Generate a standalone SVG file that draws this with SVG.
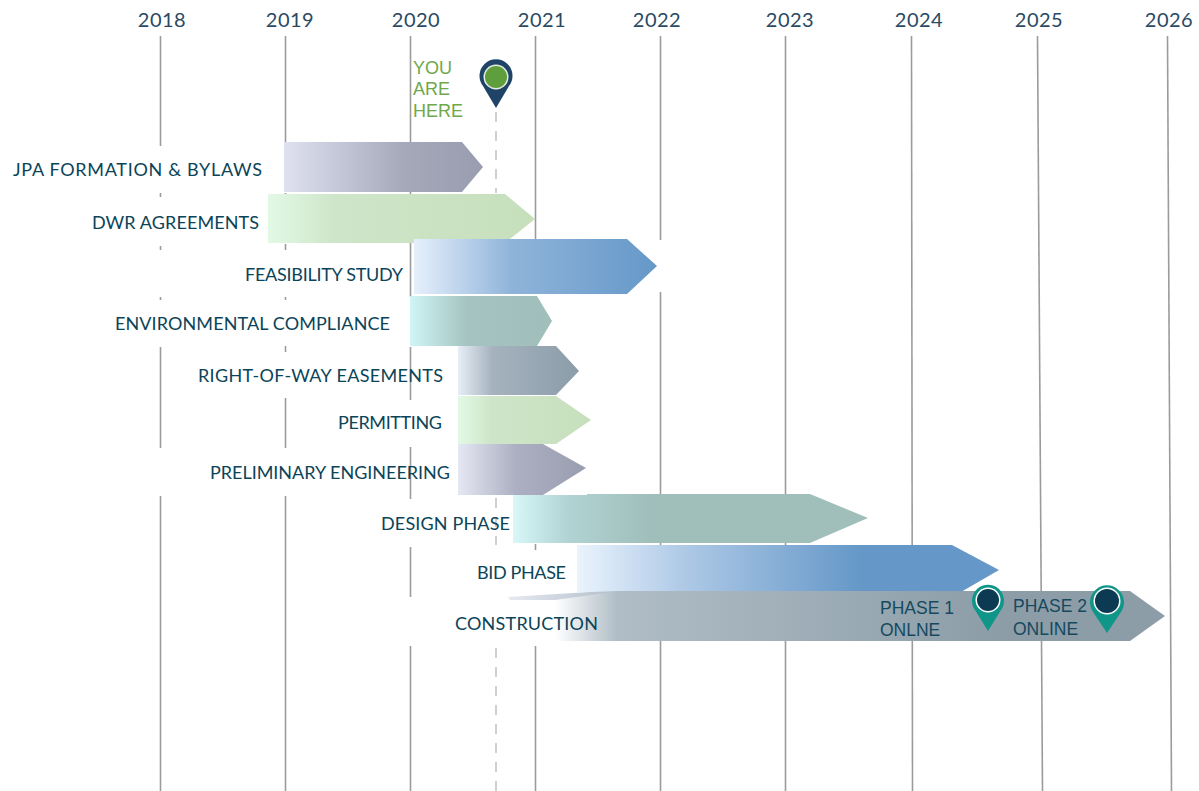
<svg xmlns="http://www.w3.org/2000/svg" width="1199" height="791" viewBox="0 0 1199 791">
<style>
.grid{stroke:#9b9b9b;stroke-width:1.6;fill:none}
.dash{stroke:#c4c4c4;stroke-width:1.6;stroke-dasharray:10 9;fill:none}
.yr{font:20px Lato,"Liberation Sans",sans-serif;fill:#2a4a64;text-anchor:middle;letter-spacing:.5px}
.lb{font:18px Lato,"Liberation Sans",sans-serif;fill:#0b4458}
.note{font:17.5px "Liberation Sans",Arial,sans-serif;fill:#15495f}
.here{font:18px "Liberation Sans",Arial,sans-serif;fill:#6fa84c}
</style>
<defs>
<linearGradient id="gPurple" x1="0" x2="1" y1="0" y2="0"><stop offset="0" stop-color="#dfe1f0"/><stop offset=".6" stop-color="#a5a9ba"/><stop offset="1" stop-color="#989daf"/></linearGradient>
<linearGradient id="gGreen" x1="0" x2="1" y1="0" y2="0"><stop offset="0" stop-color="#e2f9e6"/><stop offset=".25" stop-color="#cfe5c9"/><stop offset="1" stop-color="#c6dfbb"/></linearGradient>
<linearGradient id="gBlue" x1="0" x2="1" y1="0" y2="0"><stop offset="0" stop-color="#e6f0fc"/><stop offset=".4" stop-color="#8fb4da"/><stop offset="1" stop-color="#6598c8"/></linearGradient>
<linearGradient id="gTeal" x1="0" x2="1" y1="0" y2="0"><stop offset="0" stop-color="#cff5f5"/><stop offset=".4" stop-color="#a5c4c1"/><stop offset="1" stop-color="#a0bfbb"/></linearGradient>
<linearGradient id="gSlate" x1="0" x2="1" y1="0" y2="0"><stop offset="0" stop-color="#e8eef6"/><stop offset=".28" stop-color="#a6b3bf"/><stop offset="1" stop-color="#8a9da8"/></linearGradient>
<linearGradient id="gPurple2" x1="0" x2="1" y1="0" y2="0"><stop offset="0" stop-color="#e5e7f3"/><stop offset=".45" stop-color="#adb0c2"/><stop offset="1" stop-color="#989daf"/></linearGradient>
<linearGradient id="gDesign" gradientUnits="userSpaceOnUse" x1="513" x2="650" y1="0" y2="0"><stop offset="0" stop-color="#d8f8f8"/><stop offset=".4" stop-color="#b1d3d3"/><stop offset="1" stop-color="#a0bfbb"/></linearGradient>
<linearGradient id="gBid" gradientUnits="userSpaceOnUse" x1="577" x2="860" y1="0" y2="0"><stop offset="0" stop-color="#eaf3fc"/><stop offset=".4" stop-color="#abc7e5"/><stop offset="1" stop-color="#6598c8"/></linearGradient>
<linearGradient id="gCons" gradientUnits="userSpaceOnUse" x1="555" x2="1000" y1="0" y2="0"><stop offset="0" stop-color="#ffffff"/><stop offset=".14" stop-color="#b0bdc6"/><stop offset="1" stop-color="#8c9da7"/></linearGradient>
<linearGradient id="gSliver" gradientUnits="userSpaceOnUse" x1="508" x2="620" y1="0" y2="0"><stop offset="0" stop-color="#e6e9f2"/><stop offset="1" stop-color="#b0bdc6"/></linearGradient>
</defs>

<g id="connectors">
<path class="grid" d="M160.5 36V146M160.5 193V197M160.5 246V250M160.5 297V300M160.5 347V448M160.5 496V791"/>
<path class="grid" d="M285.5 36V143M285.5 193V197M285.5 244V250M285.5 297V300M285.5 346V352M285.5 398V448M285.5 496V791"/>
<path class="grid" d="M410.5 36V143M410.5 190V194M410.5 243V297M410.5 347V400M410.5 447V499M410.5 547V597M410.5 646V791"/>
<path class="grid" d="M535.5 36V240M535.5 296V346M535.5 544V550M535.5 646V791"/>
<path class="grid" d="M660.5 36V240M660.5 292V791"/>
<path class="grid" d="M785.5 36V791"/>
<path class="grid" d="M911.5 36L912.5 791"/>
<path class="grid" d="M1037.5 36L1042.5 791"/>
<path class="grid" d="M1167.5 36L1171.5 791"/>
<path class="dash" d="M496 112V193"/>
<path class="dash" d="M496 245V296M496 498V545"/>
<path class="dash" d="M496 648V791"/>
</g>

<g id="bar-jpa"><polygon points="284,142 462,142 483,167 462,192 284,192" fill="url(#gPurple)"/><text class="lb" x="13" y="176" textLength="249">JPA FORMATION &amp; BYLAWS</text></g>
<g id="bar-dwr"><polygon points="268,194 505,194 535,219 505,243 268,243" fill="url(#gGreen)"/><text class="lb" x="92" y="229" textLength="167">DWR AGREEMENTS</text></g>
<g id="bar-feasibility"><polygon points="414,239 627,239 657,266 627,294 414,294" fill="url(#gBlue)"/><text class="lb" x="245" y="281" textLength="158">FEASIBILITY STUDY</text></g>
<g id="bar-environmental"><polygon points="410,296 537,296 552,321 537,346 410,346" fill="url(#gTeal)"/><text class="lb" x="115" y="330" textLength="275">ENVIRONMENTAL COMPLIANCE</text></g>
<g id="bar-row"><polygon points="458,346 556,346 579,371 556,395 458,395" fill="url(#gSlate)"/><text class="lb" x="198" y="382" textLength="245">RIGHT-OF-WAY EASEMENTS</text></g>
<g id="bar-permitting"><polygon points="458,396 556,396 591,420 556,444 458,444" fill="url(#gGreen)"/><text class="lb" x="338" y="429" textLength="104">PERMITTING</text></g>
<g id="bar-preliminary"><polygon points="458,444 543,444 586,468 543,495 458,495" fill="url(#gPurple2)"/><text class="lb" x="210" y="479" textLength="240">PRELIMINARY ENGINEERING</text></g>
<g id="bar-design"><polygon points="513,495 587,495 587,494 810,494 868,518 810,543 513,543" fill="url(#gDesign)"/><text class="lb" x="381" y="530" textLength="129">DESIGN PHASE</text></g>
<g id="bar-bid"><polygon points="577,545 952,545 999,570 961,592 577,592" fill="url(#gBid)"/><text class="lb" x="477" y="579" textLength="89">BID PHASE</text></g>
<g id="bar-construction">
<polygon points="508,597 590,592 620,591 620,600 510,600" fill="url(#gSliver)"/>
<polygon points="555,600 620,591 1130,591 1165,616 1130,641 555,641" fill="url(#gCons)"/>
<text class="lb" x="455" y="630" textLength="143">CONSTRUCTION</text>
</g>

<g id="pin-you-are-here">
<path d="M496 108L483 86A16.5 16.5 0 1 1 509 86Z" fill="#1f4468"/>
<circle cx="496" cy="77" r="12.5" fill="#e6eee2"/><circle cx="496" cy="77" r="11" fill="#5f9e3c"/>
<text class="here"><tspan x="413" y="74">YOU</tspan><tspan x="413" y="95">ARE</tspan><tspan x="413" y="117">HERE</tspan></text>
</g>
<g id="pin-phase-1">
<path d="M988 631L975 610A16 16 0 1 1 1001 610Z" fill="#0f9688"/>
<circle cx="988" cy="600" r="12.5" fill="#fff"/><circle cx="988" cy="600" r="11" fill="#0b3a52"/>
<text class="note"><tspan x="880" y="614">PHASE 1</tspan><tspan x="880" y="636">ONLNE</tspan></text>
</g>
<g id="pin-phase-2">
<path d="M1107 633L1093 612A17 17 0 1 1 1121 612Z" fill="#0f9688"/>
<circle cx="1107" cy="601" r="13.5" fill="#fff"/><circle cx="1107" cy="601" r="12" fill="#0b3a52"/>
<text class="note"><tspan x="1013" y="612">PHASE 2</tspan><tspan x="1013" y="635">ONLINE</tspan></text>
</g>

<g id="years">
<text class="yr" x="162" y="27">2018</text><text class="yr" x="290" y="27">2019</text><text class="yr" x="416" y="27">2020</text><text class="yr" x="542" y="27">2021</text><text class="yr" x="657" y="27">2022</text><text class="yr" x="790" y="27">2023</text><text class="yr" x="919" y="27">2024</text><text class="yr" x="1039" y="27">2025</text><text class="yr" x="1169" y="27">2026</text>
</g>
</svg>
